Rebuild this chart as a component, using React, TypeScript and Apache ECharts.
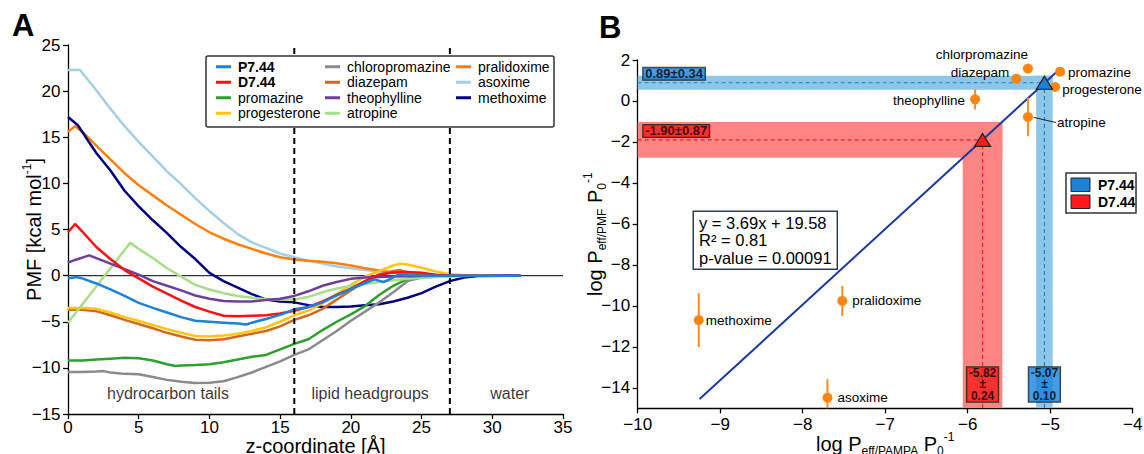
import React, { useEffect, useRef } from 'react';
import * as echarts from 'echarts';

const FONT = "'Liberation Sans', Arial, Helvetica, sans-serif";

// ---------------- Panel A: PMF profiles, [z (Å), PMF (kcal/mol)] ----------------
const zBounds = [16, 27];
const regionNames = ['hydrocarbon tails', 'lipid headgroups', 'water'];
const regionZ = [7.07, 21.36, 31.24];
const regionPmf = [-12.8, -12.8, -12.8];

const pmfP744 = [[0,-0.3],[0.6,-0.15],[1,-0.3],[2,-0.85],[3,-1.5],[4,-2.2],[5,-2.95],[6,-3.5],[7,-4.0],[8,-4.5],[9,-4.9],[10,-5.0],[11,-5.1],[12,-5.2],[12.6,-5.3],[13,-5.1],[14,-4.7],[15,-4.25],[16,-3.65],[17,-3.4],[18,-2.9],[19,-2.15],[20,-1.45],[21,-0.8],[21.7,-0.4],[22.3,-0.7],[22.8,-0.35],[23.4,0.15],[24,0.05],[25,0],[32,0]];
const pmfD744 = [[0,4.7],[0.5,5.6],[1,4.8],[2,3.1],[3,1.8],[4,0.6],[5,-0.3],[6,-1.2],[7,-1.95],[8,-2.7],[9,-3.4],[10,-3.9],[11,-4.35],[12,-4.4],[13,-4.35],[14,-4.3],[15,-4.1],[16,-3.8],[17,-3.4],[18,-2.8],[19,-2.1],[20,-1.4],[21,-0.6],[22,0.1],[23,0.35],[24,0.4],[25,0.3],[26,0.1],[27,0.02],[29,0]];
const pmfPromazine = [[0,-9.2],[1,-9.2],[2,-9.1],[3,-9.0],[4,-8.9],[5,-8.95],[6,-9.2],[7,-9.6],[7.6,-9.8],[8,-9.75],[9,-9.7],[10,-9.6],[11,-9.4],[12,-9.1],[13,-8.8],[14,-8.6],[15,-8.0],[16,-7.4],[17,-6.9],[18,-5.9],[19,-5.0],[20,-4.2],[21,-3.3],[22,-2.1],[23,-1.1],[24,-0.35],[25,-0.2],[26,-0.1],[28,0]];
const pmfProgesterone = [[0,-3.5],[1,-3.5],[2,-3.6],[3,-4.0],[4,-4.5],[5,-4.9],[6,-5.35],[7,-5.8],[8,-6.2],[9,-6.55],[10,-6.6],[11,-6.5],[12,-6.3],[13,-6.0],[14,-5.6],[15,-5.0],[16,-4.3],[17,-3.8],[18,-3.0],[19,-2.0],[20,-1.0],[21,-0.1],[22,0.5],[23,1.1],[23.5,1.3],[24,1.2],[25,0.85],[26,0.45],[27,0.15],[28,0.05],[30,0]];
const pmfChloropromazine = [[0,-10.45],[1,-10.45],[2,-10.4],[2.5,-10.35],[3,-10.5],[4,-10.65],[5,-10.7],[6,-11.0],[7,-11.3],[8,-11.5],[9,-11.65],[10,-11.6],[11,-11.45],[12,-11.0],[13,-10.5],[14,-9.9],[15,-9.3],[16,-8.6],[17,-8.0],[18,-7.0],[19,-6.0],[20,-4.9],[21,-3.9],[22,-2.9],[23,-1.8],[24,-0.6],[25,-0.2],[26,-0.1],[28,0]];
const pmfDiazepam = [[0,-3.7],[1,-3.7],[2,-3.85],[3,-4.3],[4,-4.8],[5,-5.25],[6,-5.7],[7,-6.2],[8,-6.6],[9,-6.95],[10,-7.0],[11,-6.9],[12,-6.6],[13,-6.3],[14,-6.0],[15,-5.5],[16,-4.8],[17,-4.3],[18,-3.6],[19,-2.6],[20,-1.6],[21,-0.6],[22,0.1],[23,0.5],[23.5,0.6],[24,0.35],[25,0.05],[26,0],[30,0]];
const pmfTheophylline = [[0,1.4],[0.5,1.7],[1.5,2.2],[2,1.9],[3,1.3],[4,0.7],[5,0.1],[6,-0.6],[7,-1.1],[8,-1.6],[9,-2.15],[10,-2.5],[11,-2.75],[12,-2.8],[13,-2.8],[14,-2.65],[15,-2.5],[16,-2.2],[17,-1.7],[18,-1.1],[19,-0.7],[20,-0.35],[21,-0.2],[23,-0.1],[25,-0.05],[27,0],[32,0]];
const pmfAtropine = [[0,-5.1],[4.4,3.55],[5,2.9],[6,1.9],[7,0.8],[8,-0.1],[9,-1.0],[10,-1.5],[11,-1.9],[12,-2.2],[13,-2.4],[14,-2.55],[15,-2.6],[16,-2.6],[17,-2.3],[18,-1.8],[19,-1.4],[20,-1.1],[21,-0.9],[22,-0.7],[23,-0.5],[24,-0.35],[25,-0.25],[26,-0.15],[27,-0.1],[29,0]];
const pmfPralidoxime = [[0,15.6],[0.5,16.2],[1,15.6],[2,14.1],[3,12.6],[4,11.1],[5,9.8],[6,8.7],[7,7.6],[8,6.6],[9,5.6],[10,4.7],[11,4.0],[12,3.4],[13,2.9],[14,2.4],[15,2.0],[16,1.75],[17,1.6],[18,1.5],[19,1.35],[20,1.1],[21,0.8],[22,0.55],[23,0.35],[24,0.2],[25,0.1],[26,0.05],[27,0.02],[28,0],[32,0]];
const pmfAsoxime = [[0,22.3],[0.85,22.3],[2,20.1],[3,18.1],[4,16.2],[5,14.5],[6,12.9],[7,11.3],[8,9.9],[9,8.4],[10,7.0],[11,5.7],[12,4.5],[13,3.6],[14,3.0],[15,2.4],[16,2.0],[17,1.6],[18,1.3],[19,1.0],[20,0.8],[21,0.6],[22,0.4],[23,0.3],[24,0.2],[25,0.1],[27,0.03],[32,0]];
const pmfMethoxime = [[0,17.2],[0.7,16.3],[1,15.6],[2,13.3],[3,11.4],[4,9.2],[5,7.5],[6,6.0],[7,4.6],[8,3.1],[9,1.8],[10,0.3],[11,-0.6],[12,-1.3],[13,-2.0],[14,-2.6],[15,-2.8],[16,-2.9],[17,-3.2],[18,-3.4],[19,-3.4],[20,-3.35],[21,-3.2],[22,-3.1],[23,-2.8],[24,-2.4],[25,-1.9],[26,-1.2],[27,-0.6],[28,-0.2],[29,-0.05],[32,0]];

const curveNames = ['P7.44','D7.44','promazine','progesterone','chloropromazine','diazepam','theophylline','atropine','pralidoxime','asoxime','methoxime'];
const curveData = [pmfP744, pmfD744, pmfPromazine, pmfProgesterone, pmfChloropromazine, pmfDiazepam, pmfTheophylline, pmfAtropine, pmfPralidoxime, pmfAsoxime, pmfMethoxime];
const curveColors = ['#1a82d8','#ff1010','#2ca02c','#ffc510','#8a8a8a','#d2691e','#6f3fa0','#a9dd8c','#ff7f0e','#a6cee3','#000080'];
const drawOrder = ['asoxime','pralidoxime','methoxime','chloropromazine','promazine','diazepam','progesterone','atropine','theophylline','D7.44','P7.44'];
const legendCols = [['P7.44','D7.44','promazine','progesterone'],['chloropromazine','diazepam','theophylline','atropine'],['pralidoxime','asoxime','methoxime']];

// ---------------- Panel B: permeability correlation ----------------
const bNames = ['methoxime','pralidoxime','asoxime','theophylline','atropine','diazepam','chlorpromazine','promazine','progesterone'];
const bPampa = [-9.26,-7.52,-7.70,-5.91,-5.27,-5.41,-5.27,-4.88,-4.94];
const bPmf = [-10.70,-9.76,-14.48,0.08,-0.78,1.09,1.58,1.43,0.68];
const bPmfErr = [1.32,0.73,0.9,0.49,0.94,0,0,0,0];

const refNames = ['P7.44','D7.44'];
const refPampa = [-5.07,-5.82];
const refPampaErr = [0.10,0.24];
const refPmf = [0.89,-1.90];
const refPmfErr = [0.34,0.87];
const refColors = ['#1a82d8','#ff1a1a'];
const bandColors = ['#8cc6e8','#ff8585'];

const fitLine = [[-9.25,-14.55],[-4.93,1.39]];
const fitText = ['y = 3.69x + 19.58','R² = 0.81','p-value = 0.00091'];

const minus = (v: number) => (v < 0 ? '\u2212' + Math.abs(v) : String(v));

function axisBase(labelMargin: number) {
  return {
    axisLine: { show: true, onZero: false, lineStyle: { color: '#000', width: 1.3 } },
    axisTick: { show: true, inside: false, length: 5, lineStyle: { color: '#000', width: 1.3 } },
    axisLabel: { color: '#000', fontSize: 17, fontFamily: FONT, margin: labelMargin, formatter: minus },
    splitLine: { show: false },
    nameMoveOverlap: false,
  };
}

const nameStyle = {
  fontSize: 20, fontFamily: FONT, color: '#000', lineHeight: 26,
  rich: {
    sub: { fontSize: 12, fontFamily: FONT, color: '#000', verticalAlign: 'bottom', lineHeight: 12 },
    sup: { fontSize: 12, fontFamily: FONT, color: '#000', verticalAlign: 'top', lineHeight: 12 },
  },
};

function buildOption() {
  const series: any[] = [];
  // ---- Panel A
  series.push({ type: 'line', xAxisIndex: 0, yAxisIndex: 0, data: [[0,0],[35,0]], symbol: 'none', silent: true, lineStyle: { color: '#333', width: 1.3 }, z: 1 });
  drawOrder.forEach((name) => {
    const i = curveNames.indexOf(name);
    series.push({
      name, type: 'line', xAxisIndex: 0, yAxisIndex: 0, data: curveData[i], symbol: 'none', showSymbol: false, silent: true,
      lineStyle: { color: curveColors[i], width: 2.5 }, itemStyle: { color: curveColors[i] }, z: 2,
    });
  });
  zBounds.forEach((zb) => series.push({ type: 'line', xAxisIndex: 0, yAxisIndex: 0, data: [[zb,-15],[zb,25]], symbol: 'none', silent: true, lineStyle: { color: '#000', width: 2, type: [6,4] }, z: 3 }));
  series.push({
    type: 'scatter', xAxisIndex: 0, yAxisIndex: 0, symbolSize: 0, silent: true, z: 4,
    data: regionNames.map((n, i) => ({ name: n, value: [regionZ[i], regionPmf[i]] })),
    label: { show: true, position: 'inside', formatter: '{b}', color: '#000', fontSize: 16, fontFamily: FONT },
  });

  // ---- Panel B
  const bands: number[][] = [];
  refPmf.forEach((m, i) => {
    bands.push([-10, refPampa[i] + refPampaErr[i], m - refPmfErr[i], m + refPmfErr[i], i]);
    bands.push([refPampa[i] - refPampaErr[i], refPampa[i] + refPampaErr[i], -15, m + refPmfErr[i], i]);
  });
  series.push({
    type: 'custom', xAxisIndex: 1, yAxisIndex: 1, silent: true, z: 1, clip: true, data: bands,
    renderItem: (params: any, api: any) => {
      const p0 = api.coord([api.value(0), api.value(3)]);
      const p1 = api.coord([api.value(1), api.value(2)]);
      return { type: 'rect', shape: { x: p0[0], y: p0[1], width: p1[0] - p0[0], height: p1[1] - p0[1] }, style: { fill: bandColors[api.value(4)] } };
    },
  });
  refPmf.forEach((m, i) => series.push({
    type: 'line', xAxisIndex: 1, yAxisIndex: 1, symbol: 'none', silent: true, z: 2,
    data: [[-10, m], [refPampa[i], m], [refPampa[i], -15]],
    lineStyle: { color: refColors[i], width: 1.2, type: [4,3] },
  }));
  series.push({ type: 'line', xAxisIndex: 1, yAxisIndex: 1, symbol: 'none', silent: true, z: 3, data: fitLine, lineStyle: { color: '#1a3aa0', width: 2 } });
  series.push({
    type: 'custom', xAxisIndex: 1, yAxisIndex: 1, silent: true, z: 4, clip: true,
    data: bNames.map((n, i) => [bPampa[i], bPmf[i] - bPmfErr[i], bPmf[i] + bPmfErr[i]]).filter((d) => d[2] > d[1]),
    renderItem: (params: any, api: any) => {
      const a = api.coord([api.value(0), api.value(1)]);
      const b = api.coord([api.value(0), api.value(2)]);
      return { type: 'line', shape: { x1: a[0], y1: a[1], x2: b[0], y2: b[1] }, style: { stroke: '#ff8b1f', lineWidth: 2 } };
    },
  });
  const ai = bNames.indexOf('atropine');
  series.push({ type: 'line', xAxisIndex: 1, yAxisIndex: 1, symbol: 'none', silent: true, z: 4,
    data: [[bPampa[ai] + 0.07, bPmf[ai] - 0.02], [bPampa[ai] + 0.34, bPmf[ai] - 0.27]], lineStyle: { color: '#222', width: 1 } });
  const place: Record<string, [string, number, number]> = {
    methoxime: ['right', -3, 0], pralidoxime: ['right', 0, 0], asoxime: ['right', 0, 0],
    theophylline: ['left', 0, 1], atropine: ['right', 19, 6], diazepam: ['left', 3, -6],
    chlorpromazine: ['left', 10, -14], promazine: ['right', -2, 1], progesterone: ['right', -3, 2],
  };
  series.push({
    type: 'scatter', xAxisIndex: 1, yAxisIndex: 1, symbol: 'circle', symbolSize: 10, silent: true, z: 5, clip: false,
    itemStyle: { color: '#ff8510', opacity: 1 },
    data: bNames.map((n, i) => ({ name: n, value: [bPampa[i], bPmf[i]], label: { position: place[n][0], offset: [place[n][1], place[n][2]] } })),
    label: { show: true, formatter: '{b}', color: '#000', fontSize: 13.5, fontFamily: FONT, distance: 5 },
  });
  series.push({
    type: 'scatter', xAxisIndex: 1, yAxisIndex: 1, symbol: 'triangle', symbolSize: [16, 13], silent: true, z: 6, clip: false,
    data: refNames.map((n, i) => ({ name: n, value: [refPampa[i], refPmf[i]], itemStyle: { color: refColors[i] } })),
    itemStyle: { borderColor: '#222', borderWidth: 1.2, opacity: 1 },
  });
  const boxLabel = { show: true, color: '#000', fontSize: 13, fontWeight: 'bold', fontFamily: FONT, borderColor: '#111', borderWidth: 1 };
  series.push({
    type: 'scatter', xAxisIndex: 1, yAxisIndex: 1, symbolSize: 0, silent: true, z: 7, clip: false,
    data: refPmf.map((m, i) => ({ value: [-10, m], label: { backgroundColor: refColors[i] } })),
    label: { ...boxLabel, position: 'right', distance: 5.5, offset: [0, -9], lineHeight: 11, padding: [1, 2, 0, 2],
      formatter: (p: any) => `${refPmf[p.dataIndex].toFixed(2)}±${refPmfErr[p.dataIndex].toFixed(2)}` },
  });
  series.push({
    type: 'scatter', xAxisIndex: 1, yAxisIndex: 1, symbolSize: 0, silent: true, z: 7, clip: false,
    data: refPampa.map((x, i) => ({ value: [x, -15], label: { backgroundColor: refColors[i] } })),
    label: { ...boxLabel, fontSize: 12, position: 'top', distance: 6.6, lineHeight: 11.5, padding: [0, 2, 0, 2],
      formatter: (p: any) => `${refPampa[p.dataIndex].toFixed(2)}\n±\n${refPampaErr[p.dataIndex].toFixed(2)}` },
  });

  const legendLefts = [216, 325, 456];
  const legends = legendCols.map((cols, k) => ({
    show: true, orient: 'vertical', left: legendLefts[k], top: 59, padding: 0, itemGap: 0, z: 101,
    icon: 'rect', itemWidth: 15, itemHeight: 3, selectedMode: false,
    textStyle: { fontSize: 14, lineHeight: 15.5, fontFamily: FONT, color: '#000', padding: [0, 0, 0, 2] },
    data: cols.map((n) => (n === 'P7.44' || n === 'D7.44' ? { name: n, textStyle: { fontWeight: 'bold' } } : { name: n })),
  }));

  const graphic: any[] = [
    { type: 'rect', z: 100, shape: { x: 206, y: 56, width: 348, height: 71, r: 2 }, style: { fill: '#fff', stroke: '#333', lineWidth: 1.5 } },
    { type: 'text', z: 100, x: 12, y: 10, style: { text: 'A', fontSize: 31, fontWeight: 'bold', fontFamily: FONT, fill: '#000', align: 'left', verticalAlign: 'top' } },
    { type: 'text', z: 100, x: 599, y: 12, style: { text: 'B', fontSize: 31, fontWeight: 'bold', fontFamily: FONT, fill: '#000', align: 'left', verticalAlign: 'top' } },
    { type: 'text', z: 100, x: 694, y: 212, style: { text: fitText.join('\n'), fontSize: 16.5, lineHeight: 17.5, fontFamily: FONT, fill: '#000', align: 'left', verticalAlign: 'top',
      backgroundColor: '#fff', borderColor: '#2f3f4f', borderWidth: 1.5, padding: [2, 5, 2, 5] } },
    { type: 'rect', z: 100, shape: { x: 1066, y: 173, width: 70, height: 40 }, style: { fill: '#fff', stroke: '#333', lineWidth: 1.5 } },
  ];
  refNames.forEach((n, i) => {
    graphic.push({ type: 'rect', z: 101, shape: { x: 1071, y: 178 + i * 17, width: 19, height: 13.5 }, style: { fill: refColors[i], stroke: '#222', lineWidth: 1 } });
    graphic.push({ type: 'text', z: 101, x: 1098, y: 185 + i * 16.7, style: { text: n, fontSize: 14, fontWeight: 'bold', fontFamily: FONT, fill: '#000', align: 'left', verticalAlign: 'middle' } });
  });

  return {
    animation: false,
    backgroundColor: '#fff',
    grid: [
      { left: 68, top: 45, width: 495, height: 369, containLabel: false, outerBoundsMode: 'none' },
      { left: 637.7, top: 60, width: 495, height: 348.3, containLabel: false, outerBoundsMode: 'none' },
    ],
    xAxis: [
      { type: 'value', gridIndex: 0, min: 0, max: 35, interval: 5, ...axisBase(5),
        name: 'z-coordinate [Å]', nameLocation: 'middle', nameGap: 19, nameTextStyle: nameStyle },
      { type: 'value', gridIndex: 1, min: -10, max: -4, interval: 1, ...axisBase(8),
        name: 'log P{sub|eff/PAMPA} P{sub|0}{sup|-1}', nameLocation: 'middle', nameGap: 23, nameTextStyle: nameStyle },
    ],
    yAxis: [
      { type: 'value', gridIndex: 0, min: -15, max: 25, interval: 5, ...axisBase(7.5),
        name: 'PMF [kcal mol{sup|-1}]', nameLocation: 'middle', nameGap: 21, nameTextStyle: nameStyle },
      (() => {
        const b: any = axisBase(7.5);
        const ticks = [-14, -12, -10, -8, -6, -4, -2, 0, 2];
        return { type: 'value', gridIndex: 1, min: -15, max: 2, ...b,
          axisTick: { ...b.axisTick, customValues: ticks }, axisLabel: { ...b.axisLabel, customValues: ticks },
          name: 'log P{sub|eff/PMF} P{sub|0}{sup|-1}', nameLocation: 'middle', nameGap: 30, nameTextStyle: nameStyle };
      })(),
    ],
    legend: legends,
    graphic,
    series,
  };
}

export default function App() {
  const ref = useRef<HTMLDivElement>(null);
  useEffect(() => {
    if (!ref.current) return;
    document.body.style.margin = '0';
    const chart = echarts.init(ref.current, undefined, { renderer: 'svg' });
    chart.setOption(buildOption() as any);
    return () => chart.dispose();
  }, []);
  return <div ref={ref} style={{ width: 1144, height: 454, position: 'absolute', left: 0, top: 0, background: '#fff' }} />;
}
